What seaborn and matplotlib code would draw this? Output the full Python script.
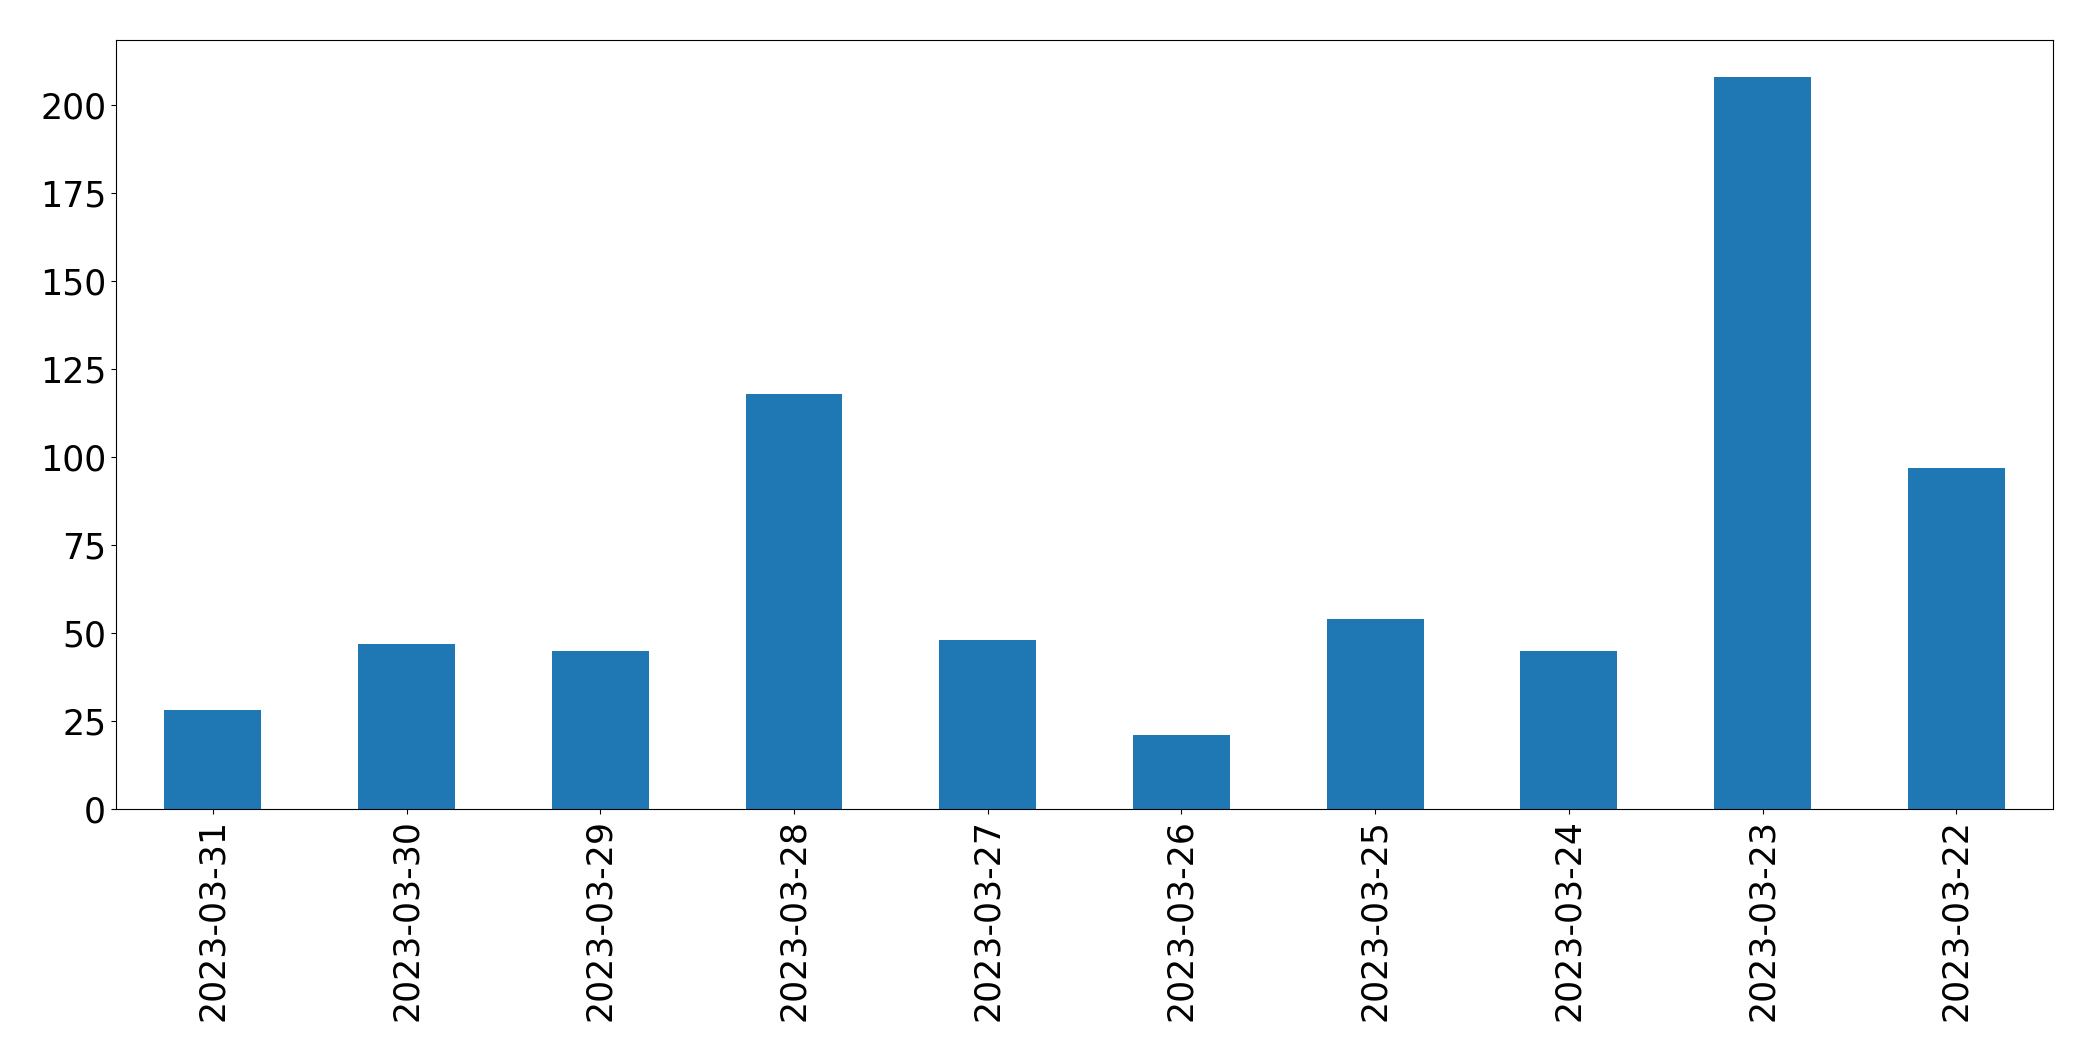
import matplotlib
matplotlib.use("Agg")
import matplotlib.pyplot as plt
import seaborn as sns
import pandas as pd

dates = ["2023-03-31", "2023-03-30", "2023-03-29", "2023-03-28", "2023-03-27",
         "2023-03-26", "2023-03-25", "2023-03-24", "2023-03-23", "2023-03-22"]
counts = [28, 47, 45, 118, 48, 21, 54, 45, 208, 97]

df = pd.DataFrame({"date": dates, "count": counts})

fig, ax = plt.subplots(figsize=(20.93, 10.61), dpi=100)
sns.barplot(data=df, x="date", y="count", color="#1f77b4", saturation=1,
            width=0.5, order=dates, linewidth=0, ax=ax)
ax.set_xlim(-0.5, len(dates) - 0.5)
ax.set_ylim(0, max(counts) * 1.05)
ax.set_xlabel("")
ax.set_ylabel("")
ax.tick_params(axis="x", labelrotation=90, labelsize=25)
ax.tick_params(axis="y", labelsize=25)
for s in ax.spines.values():
    s.set_color("black")

plt.subplots_adjust(left=0.0554, right=0.981, top=0.962, bottom=0.2375)
plt.savefig("out.png", dpi=100)
